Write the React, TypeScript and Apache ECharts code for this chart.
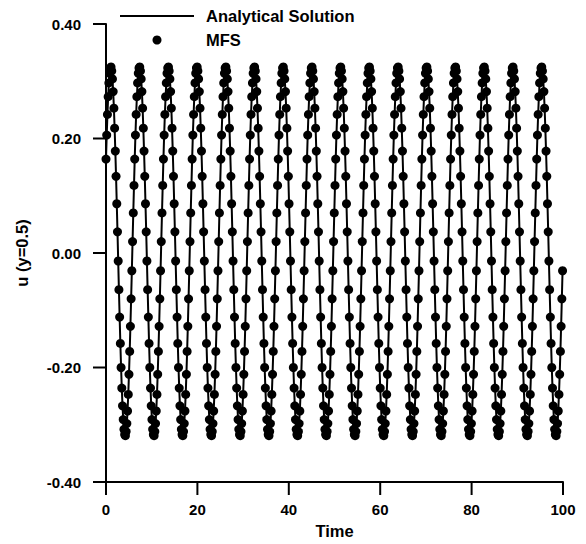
import React, { useEffect, useRef } from "react";
import * as echarts from "echarts";

// Time grid of the samples (uniform step, starting at 0)
const TIME_START = 0;
const TIME_STEP = 0.15708;

// u(y=0.5), one value per time sample
const analyticalU: number[] = [
  0.164,0.206,0.242,0.273,0.297,0.314,0.323,0.325,0.318,0.304,0.282,0.253,0.218,0.178,0.134,0.086,0.037,-0.014,-0.064,-0.112,-0.158,-0.200,-0.236,-0.267,-0.291,-0.308,-0.317,-0.319,-0.312,-0.298,-0.276,-0.247,-0.212,-0.172,-0.128,-0.080,-0.031,0.020,0.070,0.118,
  0.164,0.206,0.242,0.273,0.297,0.314,0.323,0.325,0.318,0.304,0.282,0.253,0.218,0.178,0.134,0.086,0.037,-0.014,-0.064,-0.112,-0.158,-0.200,-0.236,-0.267,-0.291,-0.308,-0.317,-0.319,-0.312,-0.298,-0.276,-0.247,-0.212,-0.172,-0.128,-0.080,-0.031,0.020,0.070,0.118,
  0.164,0.206,0.242,0.273,0.297,0.314,0.323,0.325,0.318,0.304,0.282,0.253,0.218,0.178,0.134,0.086,0.037,-0.014,-0.064,-0.112,-0.158,-0.200,-0.236,-0.267,-0.291,-0.308,-0.317,-0.319,-0.312,-0.298,-0.276,-0.247,-0.212,-0.172,-0.128,-0.080,-0.031,0.020,0.070,0.118,
  0.164,0.206,0.242,0.273,0.297,0.314,0.323,0.325,0.318,0.304,0.282,0.253,0.218,0.178,0.134,0.086,0.037,-0.014,-0.064,-0.112,-0.158,-0.200,-0.236,-0.267,-0.291,-0.308,-0.317,-0.319,-0.312,-0.298,-0.276,-0.247,-0.212,-0.172,-0.128,-0.080,-0.031,0.020,0.070,0.118,
  0.164,0.206,0.242,0.273,0.297,0.314,0.323,0.325,0.318,0.304,0.282,0.253,0.218,0.178,0.134,0.086,0.037,-0.014,-0.064,-0.112,-0.158,-0.200,-0.236,-0.267,-0.291,-0.308,-0.317,-0.319,-0.312,-0.298,-0.276,-0.247,-0.212,-0.172,-0.128,-0.080,-0.031,0.020,0.070,0.118,
  0.164,0.206,0.242,0.273,0.297,0.314,0.323,0.325,0.318,0.304,0.282,0.253,0.218,0.178,0.134,0.086,0.037,-0.014,-0.064,-0.112,-0.158,-0.200,-0.236,-0.267,-0.291,-0.308,-0.317,-0.319,-0.312,-0.298,-0.276,-0.247,-0.212,-0.172,-0.128,-0.080,-0.031,0.020,0.070,0.118,
  0.164,0.206,0.242,0.273,0.297,0.314,0.323,0.325,0.318,0.304,0.282,0.253,0.218,0.178,0.134,0.086,0.037,-0.014,-0.064,-0.112,-0.158,-0.200,-0.236,-0.267,-0.291,-0.308,-0.317,-0.319,-0.312,-0.298,-0.276,-0.247,-0.212,-0.172,-0.128,-0.080,-0.031,0.020,0.070,0.118,
  0.164,0.206,0.242,0.273,0.297,0.314,0.323,0.325,0.318,0.304,0.282,0.253,0.218,0.178,0.134,0.086,0.037,-0.014,-0.064,-0.112,-0.158,-0.200,-0.236,-0.267,-0.291,-0.308,-0.317,-0.319,-0.312,-0.298,-0.276,-0.247,-0.212,-0.172,-0.128,-0.080,-0.031,0.020,0.070,0.118,
  0.164,0.206,0.242,0.273,0.297,0.314,0.323,0.325,0.318,0.304,0.282,0.253,0.218,0.178,0.134,0.086,0.037,-0.014,-0.064,-0.112,-0.158,-0.200,-0.236,-0.267,-0.291,-0.308,-0.317,-0.319,-0.312,-0.298,-0.276,-0.247,-0.212,-0.172,-0.128,-0.080,-0.031,0.020,0.070,0.118,
  0.164,0.206,0.242,0.273,0.297,0.314,0.323,0.325,0.318,0.304,0.282,0.253,0.218,0.178,0.134,0.086,0.037,-0.014,-0.064,-0.112,-0.158,-0.200,-0.236,-0.267,-0.291,-0.308,-0.317,-0.319,-0.312,-0.298,-0.276,-0.247,-0.212,-0.172,-0.128,-0.080,-0.031,0.020,0.070,0.118,
  0.164,0.206,0.242,0.273,0.297,0.314,0.323,0.325,0.318,0.304,0.282,0.253,0.218,0.178,0.134,0.086,0.037,-0.014,-0.064,-0.112,-0.158,-0.200,-0.236,-0.267,-0.291,-0.308,-0.317,-0.319,-0.312,-0.298,-0.276,-0.247,-0.212,-0.172,-0.128,-0.080,-0.031,0.020,0.070,0.118,
  0.164,0.206,0.242,0.273,0.297,0.314,0.323,0.325,0.318,0.304,0.282,0.253,0.218,0.178,0.134,0.086,0.037,-0.014,-0.064,-0.112,-0.158,-0.200,-0.236,-0.267,-0.291,-0.308,-0.317,-0.319,-0.312,-0.298,-0.276,-0.247,-0.212,-0.172,-0.128,-0.080,-0.031,0.020,0.070,0.118,
  0.164,0.206,0.242,0.273,0.297,0.314,0.323,0.325,0.318,0.304,0.282,0.253,0.218,0.178,0.134,0.086,0.037,-0.014,-0.064,-0.112,-0.158,-0.200,-0.236,-0.267,-0.291,-0.308,-0.317,-0.319,-0.312,-0.298,-0.276,-0.247,-0.212,-0.172,-0.128,-0.080,-0.031,0.020,0.070,0.118,
  0.164,0.206,0.242,0.273,0.297,0.314,0.323,0.325,0.318,0.304,0.282,0.253,0.218,0.178,0.134,0.086,0.037,-0.014,-0.064,-0.112,-0.158,-0.200,-0.236,-0.267,-0.291,-0.308,-0.317,-0.319,-0.312,-0.298,-0.276,-0.247,-0.212,-0.172,-0.128,-0.080,-0.031,0.020,0.070,0.118,
  0.164,0.206,0.242,0.273,0.297,0.314,0.323,0.325,0.318,0.304,0.282,0.253,0.218,0.178,0.134,0.086,0.037,-0.014,-0.064,-0.112,-0.158,-0.200,-0.236,-0.267,-0.291,-0.308,-0.317,-0.319,-0.312,-0.298,-0.276,-0.247,-0.212,-0.172,-0.128,-0.080,-0.031,0.020,0.070,0.118,
  0.164,0.206,0.242,0.273,0.297,0.314,0.323,0.325,0.318,0.304,0.282,0.253,0.218,0.178,0.134,0.086,0.037,-0.014,-0.064,-0.112,-0.158,-0.200,-0.236,-0.267,-0.291,-0.308,-0.317,-0.319,-0.312,-0.298,-0.276,-0.247,-0.212,-0.172,-0.128,-0.080,-0.031,
];

// MFS results coincide with the analytical solution in the picture
const mfsU: number[] = analyticalU;

const seriesNames = ["Analytical Solution", "MFS"];
const xTicks = { min: 0, max: 100, interval: 20 };
const yTicks = { min: -0.4, max: 0.4, interval: 0.2 };
const xTickValues = [0, 20, 40, 60, 80, 100];
const yTickValues = [-0.4, -0.2, 0, 0.2, 0.4];

const FONT = "'Liberation Sans', Arial, Helvetica, sans-serif";
const TICK_LEN = 13;

export default function App() {
  const ref = useRef<HTMLDivElement>(null);
  useEffect(() => {
    if (!ref.current) return;
    const chart = echarts.init(ref.current, undefined, { renderer: "svg" });
    const toPairs = (vals: number[]) =>
      vals.map((v, k) => [TIME_START + k * TIME_STEP, v]);
    const tickStyle = {
      color: "#000",
      fontWeight: "bold" as const,
      fontSize: 15,
      fontFamily: FONT,
    };
    const nameStyle = { ...tickStyle, fontSize: 16.5 };
    const axisLine = () => ({ show: true, onZero: false, lineStyle: { color: "#000", width: 2 } });
    const tickLineStyle = { stroke: "#000", lineWidth: 2 };

    chart.setOption({
      animation: false,
      backgroundColor: "#fff",
      grid: { left: 106, right: 23, top: 24, bottom: 60, containLabel: false },
      legend: {
        orient: "vertical",
        left: 115,
        top: 2,
        itemWidth: 74,
        itemHeight: 9,
        itemGap: 6,
        textStyle: { ...nameStyle, lineHeight: 18, padding: [0, 0, 0, 7] },
        data: [
          { name: seriesNames[0], icon: "path://M0,0 H74 V2 H0 Z" },
          { name: seriesNames[1], icon: "circle" },
        ],
      },
      xAxis: {
        type: "value",
        ...xTicks,
        name: "Time",
        nameLocation: "middle",
        nameGap: 40,
        nameTextStyle: nameStyle,
        axisLine: axisLine(),
        axisTick: { show: false },
        splitLine: { show: false },
        axisLabel: { ...tickStyle, margin: 20 },
      },
      yAxis: {
        type: "value",
        ...yTicks,
        name: "u (y=0.5)",
        nameLocation: "middle",
        nameGap: 76,
        nameTextStyle: nameStyle,
        axisLine: axisLine(),
        axisTick: { show: false },
        splitLine: { show: false },
        axisLabel: {
          ...tickStyle,
          margin: 25,
          formatter: (v: number) => v.toFixed(2),
        },
      },
      series: [
        {
          name: seriesNames[0],
          type: "line",
          data: toPairs(analyticalU),
          symbol: "none",
          showSymbol: false,
          lineStyle: { color: "#000", width: 2 },
          itemStyle: { color: "#000" },
          z: 2,
        },
        {
          name: seriesNames[1],
          type: "scatter",
          data: toPairs(mfsU),
          symbol: "circle",
          symbolSize: 9,
          itemStyle: { color: "#000", opacity: 1 },
          z: 3,
        },
        // outward ticks of the x axis, placed through the axis scale
        {
          name: "xTicks",
          type: "custom",
          silent: true,
          clip: false,
          z: 10,
          data: xTickValues.map((v) => [v, yTicks.min]),
          renderItem: (_params: any, api: any) => {
            const p = api.coord([api.value(0), api.value(1)]);
            return {
              type: "line",
              shape: { x1: p[0], y1: p[1], x2: p[0], y2: p[1] + TICK_LEN },
              style: tickLineStyle,
            };
          },
        },
        // outward ticks of the y axis, placed through the axis scale
        {
          name: "yTicks",
          type: "custom",
          silent: true,
          clip: false,
          z: 10,
          data: yTickValues.map((v) => [xTicks.min, v]),
          renderItem: (_params: any, api: any) => {
            const p = api.coord([api.value(0), api.value(1)]);
            return {
              type: "line",
              shape: { x1: p[0] - TICK_LEN, y1: p[1], x2: p[0], y2: p[1] },
              style: tickLineStyle,
            };
          },
        },
      ],
    });

    return () => chart.dispose();
  }, []);
  return (
    <div
      ref={ref}
      style={{ position: "fixed", left: 0, top: 0, width: 586, height: 544 }}
    />
  );
}
